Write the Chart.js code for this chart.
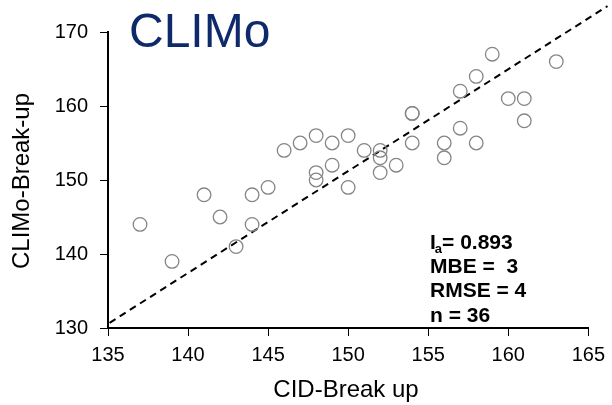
<!DOCTYPE html>
<html><head><meta charset="utf-8">
<script src="https://cdn.jsdelivr.net/npm/chart.js@4.4.1/dist/chart.umd.min.js"></script>
<style>html,body{margin:0;padding:0;background:#fff;}#wrap{width:612px;height:405px;}</style>
</head><body><div id="wrap"><canvas id="c" width="612" height="405"></canvas></div>
<script>
const cidBreakUp = [137,139,141,142,143,144,144,145,146,147,148,148,148,149,149,150,150,151,152,152,152,153,154,154,154,156,156,157,157,158,158,159,160,161,161,163];
const climoBreakUp = [144,139,148,145,141,148,144,149,154,155,156,151,150,155,152,156,149,154,154,153,151,152,159,159,155,155,153,162,157,164,155,167,161,161,158,166];
const refLineX = [135.1, 166.2];
const refLineY = [130.7, 173.5];
const xTicks = [135,140,145,150,155,160,165];
const yTicks = [130,140,150,160,170];
const chartTitle = 'CLIMo';
const xTitle = 'CID-Break up';
const yTitle = 'CLIMo-Break-up';
const statsLines = [['I','a','= 0.893'],['MBE =  3'],['RMSE = 4'],['n = 36']];

const FONT = '"Liberation Sans", Arial, sans-serif';

const textPlugin = {
  id: 'texts',
  afterDraw(chart) {
    const ctx = chart.ctx;
    ctx.save();
    ctx.fillStyle = '#0f2a6b';
    ctx.font = '48px ' + FONT;
    ctx.textBaseline = 'alphabetic';
    ctx.textAlign = 'left';
    ctx.fillText(chartTitle, 129, 47);
    ctx.fillStyle = '#000';
    ctx.font = '24px ' + FONT;
    ctx.textAlign = 'center';
    ctx.fillText(xTitle, 346, 397);
    ctx.save();
    ctx.translate(29, 181);
    ctx.rotate(-Math.PI/2);
    ctx.fillText(yTitle, 0, 0);
    ctx.restore();
    ctx.textAlign = 'left';
    const x0 = 430;
    let y = 249;
    statsLines.forEach(line => {
      let x = x0;
      if (line.length === 3) {
        ctx.font = 'bold 21px ' + FONT;
        ctx.fillText(line[0], x, y);
        x += ctx.measureText(line[0]).width - 1;
        ctx.font = 'bold 13px ' + FONT;
        ctx.fillText(line[1], x, y + 4);
        x += ctx.measureText(line[1]).width;
        ctx.font = 'bold 21px ' + FONT;
        ctx.fillText(line[2], x, y);
      } else {
        ctx.font = 'bold 21px ' + FONT;
        ctx.fillText(line[0], x, y);
      }
      y += 24.2;
    });
    ctx.restore();
  }
};

new Chart(document.getElementById('c'), {
  type: 'scatter',
  data: {
    datasets: [
      {
        data: cidBreakUp.map((v,i)=>({x:v, y:climoBreakUp[i]})),
        pointRadius: 6.8,
        pointBorderColor: '#858585',
        pointBackgroundColor: 'rgba(0,0,0,0)',
        pointBorderWidth: 1.3,
        showLine: false
      },
      {
        type: 'line',
        data: refLineX.map((v,i)=>({x:v, y:refLineY[i]})),
        borderColor: '#000',
        borderWidth: 2,
        borderDash: [7,5],
        pointRadius: 0,
        fill: false,
        clip: false
      }
    ]
  },
  options: {
    responsive: false,
    animation: false,
    layout: { padding: { top: 32, right: 22, left: 0, bottom: 0 } },
    plugins: { legend: { display: false }, tooltip: { enabled: false } },
    scales: {
      x: {
        type: 'linear', min: 135, max: 165,
        afterFit(s) { s.height = 77; },
        afterBuildTicks(s) { s.ticks = xTicks.map(v=>({value:v})); },
        border: { display: true, color: '#000', width: 2 },
        grid: { display: true, drawOnChartArea: false, drawTicks: true, tickLength: 8, tickColor: '#000', tickWidth: 1 },
        ticks: { color: '#000', font: { family: FONT, size: 20 }, padding: 7, maxRotation: 0 }
      },
      y: {
        type: 'linear', min: 130, max: 170,
        afterFit(s) { s.width = 108; },
        afterBuildTicks(s) { s.ticks = yTicks.map(v=>({value:v})); },
        border: { display: true, color: '#000', width: 2 },
        grid: { display: true, drawOnChartArea: false, drawTicks: true, tickLength: 8, tickColor: '#000', tickWidth: 1 },
        ticks: { color: '#000', font: { family: FONT, size: 20 }, padding: 12 }
      }
    }
  },
  plugins: [textPlugin]
});
</script>
</body></html>
